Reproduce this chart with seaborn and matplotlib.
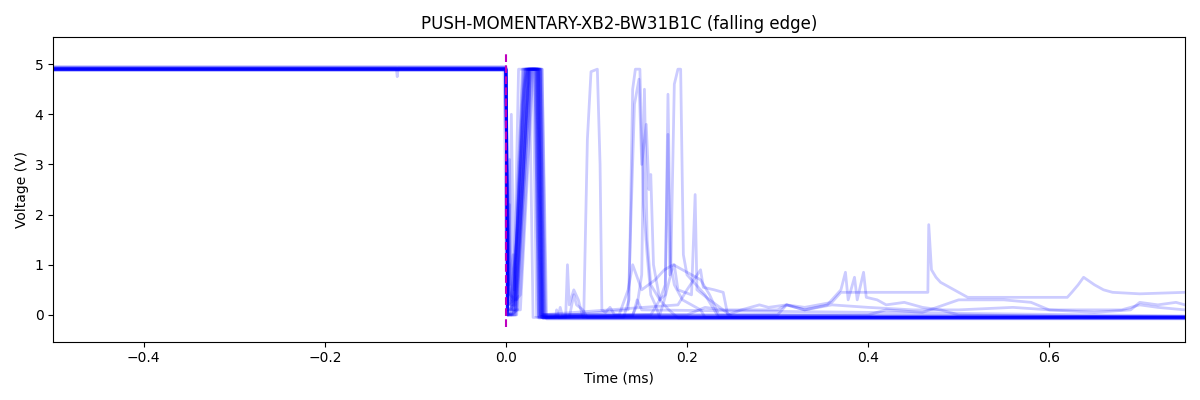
import matplotlib
matplotlib.use("Agg")
import matplotlib.pyplot as plt
import seaborn as sns
import pandas as pd

# Each trace: list of (time_ms, voltage) breakpoints read from the capture
trace_01 = [(-0.5, 4.90), (0.0, 4.90), (0.002, 0.05), (0.006, 0.0), (0.012, 0.1), (0.027, 4.90), (0.036, 4.90), (0.040, -0.05), (0.055, -0.05), (0.056, 0.1), (0.058, -0.05), (0.75, -0.05)]
trace_02 = [(-0.5, 4.88), (0.0, 4.88), (0.002, 0.0), (0.008, 0.0), (0.024, 4.90), (0.033, 4.90), (0.037, -0.06), (0.75, -0.06)]
trace_03 = [(-0.5, 4.92), (-0.121, 4.92), (-0.120, 4.75), (-0.119, 4.92), (0.0, 4.92), (0.003, 1.6), (0.005, 0.4), (0.010, 0.3), (0.018, 4.90), (0.030, 4.90), (0.034, -0.04), (0.75, -0.04)]
trace_04 = [(-0.5, 4.90), (0.0, 4.90), (0.002, 0.2), (0.004, 3.1), (0.006, 0.1), (0.016, 0.1), (0.030, 4.90), (0.038, 4.90), (0.042, -0.05), (0.066, -0.05), (0.068, 1.0), (0.070, 0.2), (0.075, 0.5), (0.080, 0.3), (0.085, -0.05), (0.75, -0.05)]
trace_05 = [(-0.5, 4.95), (0.0, 4.95), (0.002, 0.0), (0.008, 0.2), (0.022, 4.90), (0.034, 4.90), (0.038, 0.0), (0.058, 0.0), (0.060, 0.15), (0.062, 0.0), (0.086, 0.0), (0.090, 3.5), (0.094, 4.85), (0.101, 4.90), (0.104, 3.0), (0.106, 0.1), (0.110, 0.05), (0.115, 0.15), (0.120, 0.0), (0.75, -0.03)]
trace_06 = [(-0.5, 4.90), (0.0, 4.90), (0.002, 0.1), (0.010, 0.1), (0.025, 4.90), (0.035, 4.90), (0.039, -0.05), (0.130, -0.05), (0.136, 0.3), (0.140, 4.5), (0.143, 4.90), (0.148, 4.90), (0.152, 2.2), (0.156, 1.2), (0.160, 0.4), (0.165, 0.2), (0.170, -0.05), (0.75, -0.05)]
trace_07 = [(-0.5, 4.89), (0.0, 4.89), (0.002, 0.3), (0.008, 0.1), (0.020, 4.90), (0.032, 4.90), (0.036, -0.06), (0.135, 0.1), (0.142, 4.2), (0.147, 4.7), (0.150, 3.0), (0.155, 3.8), (0.158, 2.5), (0.160, 2.8), (0.163, 1.0), (0.170, 0.3), (0.180, 0.1), (0.190, -0.06), (0.75, -0.06)]
trace_08 = [(-0.5, 4.91), (0.0, 4.91), (0.002, 0.0), (0.010, 0.0), (0.026, 4.90), (0.037, 4.90), (0.041, -0.05), (0.170, 0.0), (0.175, 0.3), (0.182, 0.8), (0.186, 4.6), (0.190, 4.90), (0.193, 4.90), (0.196, 1.2), (0.200, 0.8), (0.210, 0.6), (0.220, 0.4), (0.230, 0.1), (0.235, -0.05), (0.75, -0.05)]
trace_09 = [(-0.5, 4.90), (0.0, 4.90), (0.003, 0.5), (0.008, 0.2), (0.021, 4.90), (0.033, 4.90), (0.037, -0.04), (0.160, 0.0), (0.170, 0.3), (0.176, 0.6), (0.179, 3.6), (0.181, 0.8), (0.186, 1.0), (0.190, 0.5), (0.205, 0.4), (0.209, 2.4), (0.211, 0.5), (0.225, 0.3), (0.240, 0.1), (0.250, -0.04), (0.75, -0.04)]
trace_10 = [(-0.5, 4.93), (0.0, 4.93), (0.002, 0.1), (0.010, 0.2), (0.023, 4.90), (0.035, 4.90), (0.039, -0.05), (0.140, 0.0), (0.145, 0.2), (0.150, 0.8), (0.153, 4.5), (0.156, 1.5), (0.160, 0.6), (0.170, 0.3), (0.176, 0.4), (0.179, 4.4), (0.182, 1.0), (0.186, 0.6), (0.195, 0.3), (0.205, 0.2), (0.215, 0.1), (0.220, -0.05), (0.75, -0.05)]
trace_11 = [(-0.5, 4.90), (0.0, 4.90), (0.002, 0.0), (0.012, 0.0), (0.025, 4.90), (0.036, 4.90), (0.040, 0.0), (0.200, 0.0), (0.220, 0.15), (0.240, 0.1), (0.300, 0.1), (0.310, 0.2), (0.330, 0.15), (0.360, 0.25), (0.370, 0.45), (0.400, 0.45), (0.430, 0.45), (0.466, 0.45), (0.467, 1.8), (0.470, 0.9), (0.475, 0.75), (0.480, 0.65), (0.490, 0.55), (0.500, 0.45), (0.510, 0.35), (0.580, 0.35), (0.620, 0.35), (0.625, 0.45), (0.632, 0.6), (0.638, 0.75), (0.650, 0.6), (0.660, 0.5), (0.670, 0.45), (0.700, 0.42), (0.75, 0.45)]
trace_12 = [(-0.5, 4.90), (0.0, 4.90), (0.002, 0.0), (0.013, 0.1), (0.027, 4.90), (0.039, 4.90), (0.043, -0.05), (0.300, 0.0), (0.310, 0.2), (0.330, 0.1), (0.355, 0.2), (0.370, 0.5), (0.375, 0.85), (0.378, 0.3), (0.385, 0.75), (0.388, 0.3), (0.395, 0.85), (0.398, 0.35), (0.410, 0.3), (0.420, 0.2), (0.440, 0.25), (0.460, 0.15), (0.480, 0.1), (0.500, 0.0), (0.75, -0.05)]
trace_13 = [(-0.5, 4.91), (0.0, 4.91), (0.002, 0.2), (0.009, 0.3), (0.022, 4.90), (0.034, 4.90), (0.038, 0.0), (0.190, 0.2), (0.200, 0.5), (0.215, 0.9), (0.218, 0.55), (0.230, 0.5), (0.240, 0.45), (0.245, 0.0), (0.260, 0.1), (0.280, 0.2), (0.290, 0.15), (0.310, 0.2), (0.330, 0.1), (0.360, 0.2), (0.400, 0.15), (0.450, 0.1), (0.500, 0.1), (0.560, 0.15), (0.600, 0.1), (0.680, 0.1), (0.700, 0.2), (0.720, 0.15), (0.75, 0.1)]
trace_14 = [(-0.5, 4.89), (0.0, 4.89), (0.002, 0.0), (0.011, 0.0), (0.025, 4.90), (0.035, 4.90), (0.039, 0.0), (0.400, 0.0), (0.420, 0.1), (0.460, 0.05), (0.500, 0.3), (0.520, 0.3), (0.550, 0.3), (0.580, 0.25), (0.600, 0.1), (0.650, 0.05), (0.690, 0.1), (0.700, 0.25), (0.720, 0.2), (0.740, 0.25), (0.75, 0.2)]
trace_15 = [(-0.5, 4.90), (0.0, 4.90), (0.003, 0.4), (0.006, 4.0), (0.009, 0.5), (0.014, 4.90), (0.026, 4.90), (0.030, -0.05), (0.75, -0.05)]
trace_16 = [(-0.5, 4.92), (0.0, 4.92), (0.004, 0.6), (0.008, 1.2), (0.012, 0.3), (0.028, 4.90), (0.040, 4.90), (0.044, -0.05), (0.070, -0.05), (0.075, 0.4), (0.078, 0.2), (0.085, 0.1), (0.090, -0.05), (0.75, -0.06)]
trace_17 = [(-0.5, 4.88), (0.0, 4.88), (0.002, 0.0), (0.010, 0.05), (0.026, 4.90), (0.038, 4.90), (0.041, -0.06), (0.75, -0.07)]
trace_18 = [(-0.5, 4.90), (-0.002, 4.90), (0.001, 0.0), (0.006, 0.0), (0.019, 4.90), (0.032, 4.90), (0.036, -0.03), (0.75, -0.03)]
trace_19 = [(-0.5, 4.94), (0.0, 4.94), (0.002, 0.1), (0.009, 0.1), (0.024, 4.90), (0.036, 4.90), (0.040, 0.0), (0.125, 0.0), (0.135, 0.5), (0.140, 1.0), (0.150, 0.5), (0.165, 0.7), (0.175, 0.9), (0.185, 1.0), (0.195, 0.9), (0.205, 0.8), (0.215, 0.7), (0.225, 0.4), (0.235, 0.0), (0.75, -0.04)]
trace_20 = [(-0.5, 4.90), (0.0, 4.90), (0.003, 0.3), (0.006, 0.3), (0.014, 2.0), (0.020, 4.5), (0.024, 4.90), (0.040, 4.90), (0.045, -0.08), (0.75, -0.08)]
trace_21 = [(-0.5, 4.91), (0.0, 4.91), (0.002, 0.9), (0.005, 0.2), (0.012, 1.5), (0.018, 4.2), (0.022, 4.90), (0.038, 4.90), (0.042, -0.02), (0.140, -0.02), (0.145, 0.3), (0.150, 0.1), (0.75, -0.02)]
trace_22 = [(-0.5, 4.89), (0.0, 4.89), (0.002, 0.0), (0.004, 2.2), (0.006, 0.2), (0.016, 0.4), (0.029, 4.90), (0.037, 4.90), (0.041, -0.07), (0.75, -0.07)]

traces = [trace_01, trace_02, trace_03, trace_04, trace_05, trace_06, trace_07,
          trace_08, trace_09, trace_10, trace_11, trace_12, trace_13, trace_14,
          trace_15, trace_16, trace_17, trace_18, trace_19, trace_20, trace_21,
          trace_22]

rows = []
for i, tr in enumerate(traces):
    for t, v in tr:
        rows.append({"trace": i, "t": t, "v": v})
df = pd.DataFrame(rows)

fig, ax = plt.subplots(figsize=(12, 4), dpi=100)
sns.lineplot(data=df, x="t", y="v", units="trace", estimator=None, sort=False,
             color="blue", alpha=0.2, lw=2, ax=ax)
ax.vlines(0, -0.25, 5.25, colors="m", linestyles="--", lw=1.5, zorder=5)

ax.set_xlim(-0.5, 0.75)
ax.set_ylim(-0.535, 5.535)
ax.set_title("PUSH-MOMENTARY-XB2-BW31B1C (falling edge)")
ax.set_xlabel("Time (ms)")
ax.set_ylabel("Voltage (V)")
fig.tight_layout()
fig.savefig("out.png", dpi=100)
